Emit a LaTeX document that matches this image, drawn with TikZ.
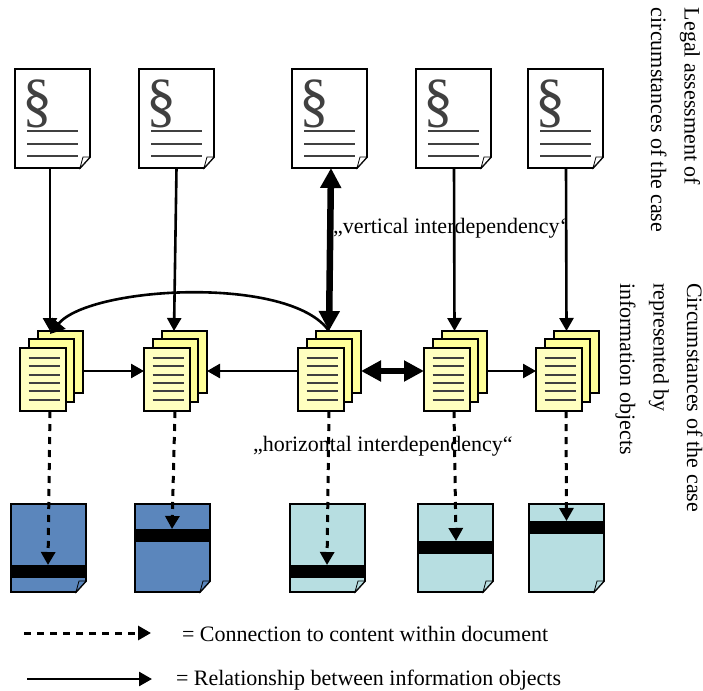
\documentclass[tikz,border=0pt]{standalone}
\usepackage{fontspec}
\setmainfont{Liberation Serif}
\usetikzlibrary{arrows.meta}
\definecolor{bluedoc}{HTML}{5B86BC}
\definecolor{tealdoc}{HTML}{B7DEE1}
\definecolor{backyellow}{HTML}{FFFF99}
\definecolor{frontyellow}{HTML}{FFFFC0}
\definecolor{markgray}{HTML}{404040}
\tikzset{
  x=1pt,y=-1pt,
  every node/.style={inner sep=0pt,outer sep=0pt},
  pageline/.style={draw=black,line width=1.8pt,line join=miter},
  textline/.style={draw=markgray,line width=1.6pt},
  link/.style={line width=2.6pt,-{Triangle[length=13pt,width=14pt]}},
  dashlink/.style={line width=3pt,dash pattern=on 7pt off 6pt,-{Triangle[length=13pt,width=14pt]}},
  boldlink/.style={line width=6.5pt,{Triangle[length=20pt,width=20pt]}-{Triangle[length=20pt,width=20pt]}},
  caption/.style={font=\fontsize{22}{22}\selectfont,anchor=base west},
  sidetext/.style={font=\fontsize{22}{33.5}\selectfont,rotate=-90,anchor=north west,align=left},
}
% sheet outline with a turned corner: left, top, fill colour
\newcommand{\sheet}[4]{%
  \filldraw[pageline,fill=#3] (#1,#2) -- ++(75,0) -- ++(0,#4-11) -- ++(-10,11) -- ++(-65,0) -- cycle;
  \filldraw[draw=black,line width=.8pt,fill=#3] (#1+65,#2+#4) -- (#1+68,#2+#4-11) -- (#1+75,#2+#4-11) -- cycle;
}
\newcommand{\legaldoc}[3]{% name, left, top
  \sheet{#2}{#3}{white}{99}
  \node[font=\fontsize{60}{60}\selectfont,text=markgray,anchor=base] at (#2+22,#3+52) {§};
  \draw[textline] (#2+12,#3+62) -- ++(51,0);
  \draw[textline] (#2+12,#3+75) -- ++(51,0);
  \draw[textline] (#2+12,#3+87) -- ++(51,0);
  \node[minimum width=75pt,minimum height=99pt,anchor=north west] (#1) at (#2,#3) {};
}
\newcommand{\stackdoc}[3]{% name, left, top
  \filldraw[pageline,fill=backyellow] (#2+18,#3) rectangle ++(45,62);
  \filldraw[pageline,fill=backyellow] (#2+9,#3+8) rectangle ++(45,63);
  \filldraw[pageline,fill=frontyellow] (#2,#3+17) rectangle ++(46,63);
  \foreach \k in {0,...,5} \draw[textline,line width=2pt] (#2+8.5,#3+27+8.3*\k) -- ++(31,0);
  \node[minimum width=63pt,minimum height=80pt,anchor=north west] (#1) at (#2,#3) {};
}
\newcommand{\contentdoc}[5]{% name, left, colour, bar top, bar name
  \sheet{#2}{504}{#3}{88}
  \node[fill=black,minimum width=75pt,minimum height=13pt,anchor=north west] (#5) at (#2,#4) {};
  \node[minimum width=75pt,minimum height=88pt,anchor=north west] (#1) at (#2,504) {};
}
\begin{document}
\begin{tikzpicture}
\useasboundingbox (0,0) rectangle (703,690);
\legaldoc{la}{15}{69}
\legaldoc{lb}{139}{69}
\legaldoc{lc}{292}{69}
\legaldoc{ld}{416}{69}
\legaldoc{le}{528}{69}
\stackdoc{sa}{20}{331}
\stackdoc{sb}{144}{331}
\stackdoc{sc}{298}{331}
\stackdoc{sd}{424}{331}
\stackdoc{se}{536}{331}
\contentdoc{ca}{11}{bluedoc}{565}{ba}
\contentdoc{cb}{135}{bluedoc}{529}{bb}
\contentdoc{cc}{290}{tealdoc}{565}{bc}
\contentdoc{cd}{418}{tealdoc}{541}{bd}
\contentdoc{ce}{529}{tealdoc}{521}{be}
% vertical links
\draw[link] ([xshift=-2.5pt]la.south) -- ([xshift=-1.5pt]sa.north);
\draw[link] ([xshift=0pt]lb.south) -- ([xshift=-1.5pt]sb.north);
\draw[link] ([xshift=0.5pt]ld.south) -- ([xshift=-1pt]sd.north);
\draw[link] ([xshift=0.5pt]le.south) -- ([xshift=-1pt]se.north);
\draw[boldlink] ([xshift=1.5pt]lc.south) -- ([xshift=-0.5pt]sc.north);
% curved link
\draw[line width=2.6pt,-{Triangle[length=14pt,width=17pt]}] ([xshift=-0.5pt]sc.north) .. controls +(-39,-56) and +(40,-48) .. ([xshift=-1.5pt,yshift=-3pt]sa.north);
% horizontal links
\draw[link] (sa.east) -- (sb.west);
\draw[link] (sc.west) -- (sb.east);
\draw[boldlink] (sc.east) -- (sd.west);
\draw[link] (sd.east) -- (se.west);
% dashed links
\draw[dashlink] ([xshift=-1.5pt]sa.south) -- ([xshift=-0.5pt]ba.north);
\draw[dashlink] ([xshift=-0.5pt]sb.south) -- ([xshift=-0.5pt]bb.north);
\draw[dashlink] ([xshift=-0.5pt]sc.south) -- ([xshift=-0.5pt]bc.north);
\draw[dashlink] ([xshift=-1.5pt]sd.south) -- ([xshift=0.5pt]bd.north);
\draw[dashlink] ([xshift=-1.5pt]se.south) -- ([xshift=0pt]be.north);
% labels
\node[caption] (vtext) at (333,233) {„vertical interdependency‘};
\node[caption] (htext) at (253,451) {„horizontal interdependency“};
\node[sidetext] (legal) at (700,8) {Legal assessment of\\circumstances of the case};
\node[sidetext] (circ) at (702.5,283) {Circumstances of the case\\represented by\\information objects};
% legend
\coordinate (da) at (24,633);
\coordinate (db) at (151,633);
\coordinate (sla) at (27,679);
\coordinate (slb) at (152,679);
\draw[dashlink] (da) -- (db);
\draw[link] (sla) -- (slb);
\node[caption] (lega) at (182,641) {= Connection to content within document};
\node[caption] (legb) at (176,685) {= Relationship between information objects};
\end{tikzpicture}
\end{document}
